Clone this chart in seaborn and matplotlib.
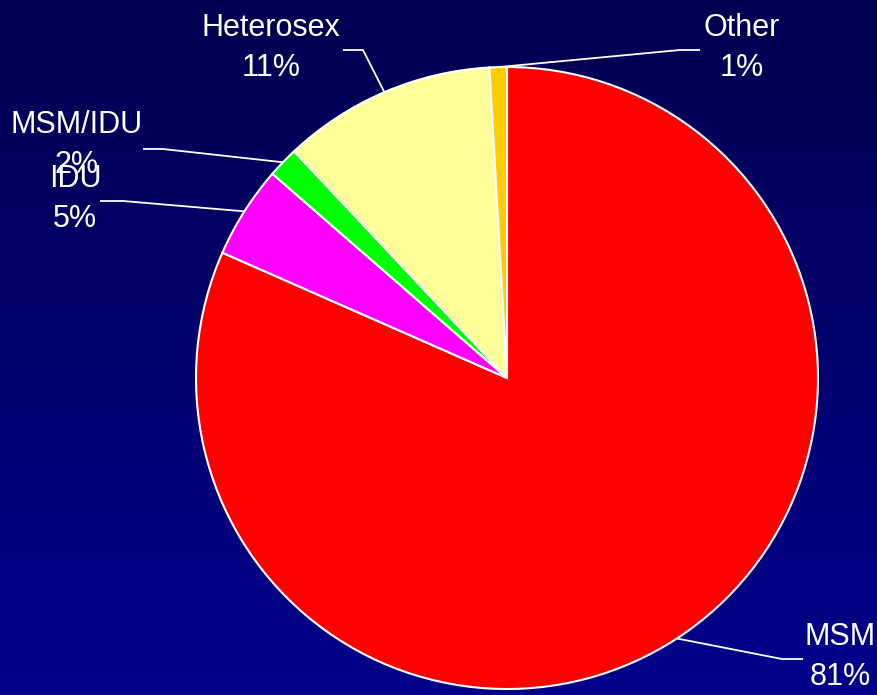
import matplotlib
matplotlib.use("Agg")
import matplotlib.pyplot as plt
import seaborn as sns
import numpy as np

# Data
groups = ["MSM", "IDU", "MSM/IDU", "Heterosex", "Other"]
shares = [81.6, 4.8, 1.6, 11.1, 0.9]
pct_labels = ["81%", "5%", "2%", "11%", "1%"]
slice_colors = ["#FF0000", "#FF00FF", "#00FF00", "#FFFF99", "#FFCC00"]

sns.set_theme(style="white")
plt.rcParams['font.family'] = ['Liberation Sans Narrow', 'Liberation Sans', 'DejaVu Sans']

W, H = 878, 695
fig = plt.figure(figsize=(W / 100, H / 100), dpi=100)
ax = fig.add_axes([0, 0, 1, 1])

# vertical gradient background, dark navy on top to blue at bottom
grad = np.linspace(0, 1, 256).reshape(-1, 1, 1)
top = np.array([0, 0, 80]) / 255
bottom = np.array([0, 0, 140]) / 255
img = top + (bottom - top) * grad * np.ones((1, 1, 3))
ax.imshow(img, extent=[0, W, 0, H], aspect='auto', zorder=0, origin='upper')

cx, cy, r = 507, H - 378, 311
wedges, _ = ax.pie(shares, colors=slice_colors, startangle=90, counterclock=False,
                   center=(cx, cy), radius=r, frame=True,
                   wedgeprops=dict(edgecolor='white', linewidth=1.5))
for w in wedges:
    w.set_zorder(2)
ax.set_xlim(0, W)
ax.set_ylim(0, H)
ax.set_aspect('equal')
ax.axis('off')

# label layout: (text x, text y, elbow x, end x, elbow y) in pixels from top
layout = {
    "MSM": (840, 657, 782, 803, 659),
    "IDU": (75, 199, 123, 100, 201),
    "MSM/IDU": (77, 145, 163, 143, 149),
    "Heterosex": (271, 48, 363, 343, 50),
    "Other": (742, 48, 680, 700, 50),
}

for w, g, p in zip(wedges, groups, pct_labels):
    tx, ty, ex, endx, ey = layout[g]
    ang = np.deg2rad((w.theta1 + w.theta2) / 2)
    px, py = cx + r * np.cos(ang), cy + r * np.sin(ang)
    ax.plot([px, ex, endx], [py, H - ey, H - ey], color='white', lw=1.3,
            zorder=3, solid_capstyle='butt')
    ax.text(tx, H - ty, f"{g}\n{p}", color='white', fontsize=22,
            ha='center', va='center', linespacing=1.45, zorder=4)

fig.savefig("out.png", dpi=100)
